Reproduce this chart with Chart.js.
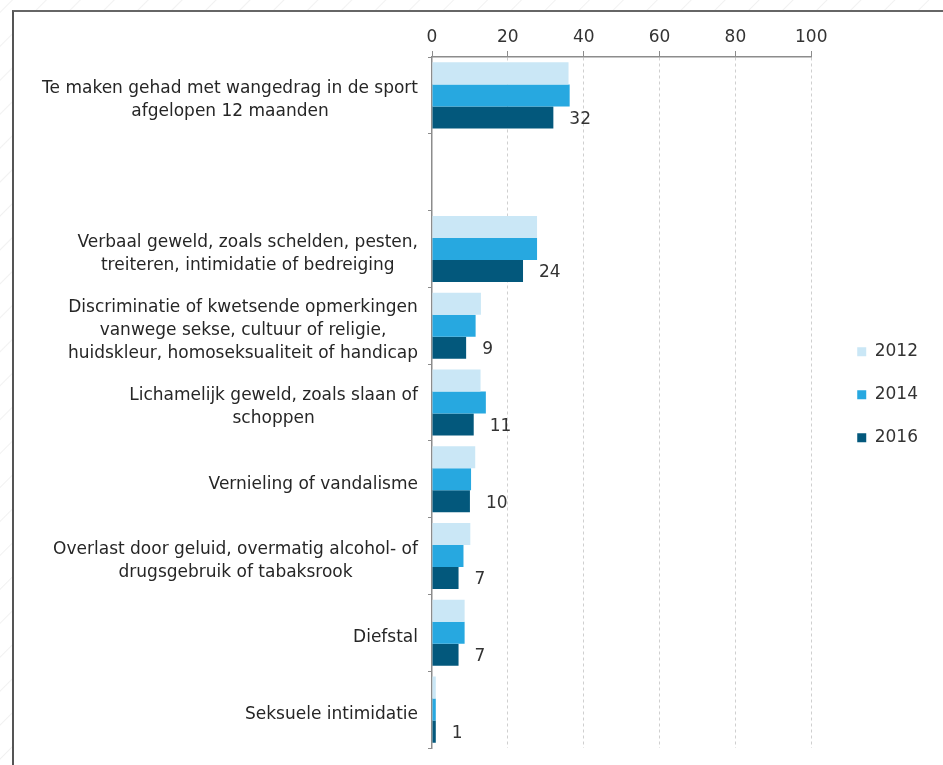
<!DOCTYPE html>
<html>
<head>
<meta charset="utf-8">
<script src="https://cdn.jsdelivr.net/npm/chart.js@4.4.1/dist/chart.umd.min.js"></script>
<style>
  html, body { margin: 0; padding: 0; }
  body {
    width: 943px; height: 765px; overflow: hidden; position: relative;
    background: #fff repeating-linear-gradient(-45deg, #fff 0px, #fff 22px, #f1f1f1 23px, #fff 24px);
  }
  #frame {
    position: absolute; left: 12px; top: 10px; width: 960px; height: 800px;
    border-left: 2px solid #555; border-top: 2px solid #666; background: #fff;
  }
  #wrap { position: absolute; left: 0; top: 0; width: 943px; height: 765px; }
</style>
</head>
<body>
<div id="frame"></div>
<div id="wrap"><canvas id="wangedragChart"></canvas></div>
<script>
// categories (one empty row between the first bar group and the rest)
const categories = [
  ["Te maken gehad met wangedrag in de sport", "afgelopen 12 maanden"],
  [""],
  ["Verbaal geweld, zoals schelden, pesten,", "treiteren, intimidatie of bedreiging"],
  ["Discriminatie of kwetsende opmerkingen", "vanwege sekse, cultuur of religie,", "huidskleur, homoseksualiteit of handicap"],
  ["Lichamelijk geweld, zoals slaan of", "schoppen"],
  ["Vernieling of vandalisme"],
  ["Overlast door geluid, overmatig alcohol- of", "drugsgebruik of tabaksrook"],
  ["Diefstal"],
  ["Seksuele intimidatie"]
]
const years = ["2012", "2014", "2016"]
const values2012 = [36, null, 27.7, 12.9, 12.8, 11.4, 10.1, 8.6, 1]
const values2014 = [36.3, null, 27.7, 11.5, 14.2, 10.3, 8.3, 8.6, 1]
const values2016 = [32, null, 24, 9, 11, 10, 7, 7, 1]
const xTicks = [0, 20, 40, 60, 80, 100]

const colors = ['#cae7f6', '#27a8e0', '#03587c']
const fontFamily = '"DejaVu Sans", sans-serif'

// draw the category texts: lines centred inside a block that is right-aligned to the axis
const categoryLabels = {
  id: 'categoryLabels',
  afterDraw(chart) {
    const ctx = chart.ctx
    const yScale = chart.scales.y
    const right = 418
    const lineH = 23
    ctx.save()
    ctx.font = '17px ' + fontFamily
    ctx.fillStyle = '#262626'
    ctx.textBaseline = 'middle'
    ctx.textAlign = 'center'
    categories.forEach((lines, i) => {
      const yc = yScale.getPixelForTick(i) + 5
      const w = Math.max(...lines.map(l => ctx.measureText(l).width))
      const xc = right - w / 2
      lines.forEach((l, k) => {
        ctx.fillText(l, xc, yc + (k - (lines.length - 1) / 2) * lineH)
      })
    })
    ctx.restore()
  }
}

// value labels next to the 2016 bars
const valueLabels = {
  id: 'valueLabels',
  afterDatasetsDraw(chart) {
    const ctx = chart.ctx
    const meta = chart.getDatasetMeta(2)
    ctx.save()
    ctx.font = '17px ' + fontFamily
    ctx.fillStyle = '#333'
    ctx.textBaseline = 'middle'
    ctx.textAlign = 'left'
    meta.data.forEach((bar, i) => {
      const v = values2016[i]
      if (v === null) return
      ctx.fillText(String(v), bar.x + 16, bar.y + 2)
    })
    ctx.restore()
  }
}

const ctx = document.getElementById('wangedragChart')
new Chart(ctx, {
  type: 'bar',
  data: {
    labels: categories.map(c => c.join(' ')),
    datasets: [
      { label: years[0], data: values2012, backgroundColor: colors[0] },
      { label: years[1], data: values2014, backgroundColor: colors[1] },
      { label: years[2], data: values2016, backgroundColor: colors[2] }
    ]
  },
  options: {
    indexAxis: 'y',
    responsive: true,
    maintainAspectRatio: false,
    animation: false,
    datasets: {
      bar: { categoryPercentage: 0.86, barPercentage: 1.0 }
    },
    layout: { padding: { left: 0, top: 0, right: 15, bottom: 17 } },
    scales: {
      x: {
        position: 'top',
        min: 0,
        max: 100,
        afterBuildTicks(scale) { scale.ticks = xTicks.map(v => ({ value: v })) },
        afterFit(scale) { scale.height = 57 },
        ticks: {
          color: '#333',
          font: { family: fontFamily, size: 17 },
          padding: 3
        },
        grid: {
          color: c => c.index === 0 ? 'rgba(0,0,0,0)' : '#cfcfcf',
          lineWidth: 1,
          tickColor: '#8c8c8c',
          tickLength: 6,
          tickBorderDash: []
        },
        border: { display: true, color: '#8c8c8c', width: 1.5, dash: [3, 3] }
      },
      y: {
        afterFit(scale) { scale.width = 432 },
        ticks: { display: false },
        grid: {
          drawOnChartArea: false,
          drawTicks: true,
          tickLength: 4,
          tickColor: '#8c8c8c'
        },
        border: { display: true, color: '#8c8c8c', width: 1.5 }
      },
      // empty spacer between plot and legend
      gap: {
        type: 'linear',
        position: 'right',
        ticks: { display: false },
        grid: { display: false },
        border: { display: false },
        afterFit(scale) { scale.width = 20 }
      }
    },
    plugins: {
      tooltip: { enabled: false },
      legend: {
        position: 'right',
        align: 'center',
        title: { display: true, text: ' ', font: { size: 12 }, padding: { top: 27, bottom: 0 } },
        labels: {
          color: '#333',
          font: { family: fontFamily, size: 17 },
          boxWidth: 9,
          boxHeight: 9,
          padding: 26
        }
      }
    }
  },
  plugins: [categoryLabels, valueLabels]
})
</script>
</body>
</html>
